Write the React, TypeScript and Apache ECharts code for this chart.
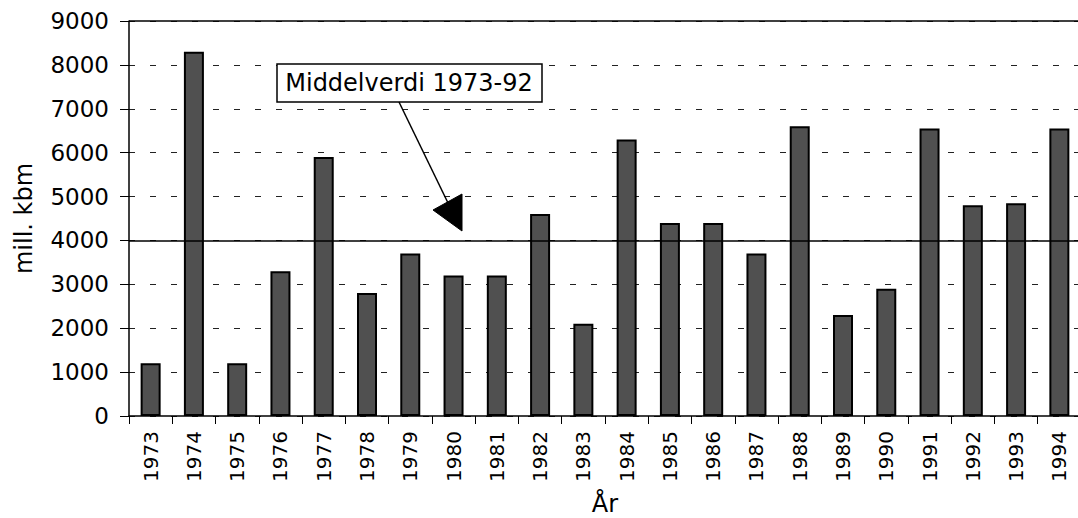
import React, { useEffect, useRef } from "react";
import * as echarts from "echarts";

const years: string[] = [
  "1973", "1974", "1975", "1976", "1977", "1978", "1979", "1980", "1981", "1982", "1983",
  "1984", "1985", "1986", "1987", "1988", "1989", "1990", "1991", "1992", "1993", "1994",
];
const volumes: number[] = [
  1200, 8300, 1200, 3300, 5900, 2800, 3700, 3200, 3200, 4600, 2100,
  6300, 4400, 4400, 3700, 6600, 2300, 2900, 6550, 4800, 4850, 6550,
];
const meanValue = 4000;
const topValue = 9000;
const annotationText = "Middelverdi 1973-92";
const yAxisName = "mill. kbm";
const xAxisName = "År";

const FONT = "'DejaVu Sans', 'Liberation Sans', Arial, sans-serif";

export default function App() {
  const ref = useRef<HTMLDivElement>(null);

  useEffect(() => {
    if (!ref.current) return;
    const chart = echarts.init(ref.current, undefined, { renderer: "svg" });
    chart.setOption({
      animation: false,
      backgroundColor: "#ffffff",
      grid: {
        left: 129,
        top: 21,
        width: 952,
        height: 395,
        containLabel: false,
        outerBoundsMode: "none",
      },
      xAxis: {
        type: "category",
        data: years,
        boundaryGap: true,
        name: xAxisName,
        nameLocation: "middle",
        nameGap: 76,
        nameTextStyle: { fontFamily: FONT, fontSize: 24, color: "#000" },
        axisLine: { show: true, lineStyle: { color: "#000", width: 1.5 } },
        axisTick: { show: true, length: 8, interval: 0, lineStyle: { color: "#000" } },
        axisLabel: {
          interval: 0,
          rotate: 90,
          margin: 15,
          fontFamily: FONT,
          fontSize: 20,
          color: "#000",
        },
        splitLine: { show: false },
      },
      yAxis: {
        type: "value",
        min: 0,
        max: topValue,
        interval: 1000,
        name: yAxisName,
        nameLocation: "middle",
        nameRotate: 90,
        nameGap: 93,
        nameTextStyle: { fontFamily: FONT, fontSize: 24, color: "#000" },
        axisLine: { show: true, lineStyle: { color: "#000", width: 1.5 } },
        axisTick: { show: true, length: 9, inside: false, lineStyle: { color: "#000" } },
        axisLabel: {
          margin: 20,
          fontFamily: FONT,
          fontSize: 23,
          color: "#000",
          formatter: (v: number) => String(v),
        },
        splitLine: {
          show: true,
          lineStyle: { color: "#222", width: 1, type: [6, 15] },
        },
      },
      series: [
        {
          type: "bar",
          data: volumes,
          barWidth: 20,
          itemStyle: { color: "#505050", borderColor: "#000", borderWidth: 2 },
          markLine: {
            silent: true,
            symbol: "none",
            label: { show: false },
            lineStyle: { color: "#000", type: "solid", width: 1.5 },
            data: [{ yAxis: meanValue }, { yAxis: topValue }],
          },
        },
      ],
      graphic: [
        {
          type: "rect",
          shape: { x: 277, y: 64, width: 265, height: 38 },
          style: { fill: "#fff", stroke: "#000", lineWidth: 1.5 },
          z: 100,
        },
        {
          type: "text",
          x: 409,
          y: 83,
          style: {
            text: annotationText,
            fontFamily: FONT,
            fontSize: 24,
            fill: "#000",
            align: "center",
            verticalAlign: "middle",
          },
          z: 101,
        },
        {
          type: "line",
          shape: { x1: 399, y1: 102, x2: 449, y2: 205 },
          style: { stroke: "#000", lineWidth: 1.5 },
          z: 100,
        },
        {
          type: "polygon",
          shape: { points: [[433, 210], [462, 194], [462, 231]] },
          style: { fill: "#000", stroke: "#000", lineWidth: 1 },
          z: 100,
        },
      ],
    });
    return () => chart.dispose();
  }, []);

  return (
    <div
      ref={ref}
      style={{ position: "absolute", left: 0, top: 0, width: 1078, height: 518, background: "#fff" }}
    />
  );
}
